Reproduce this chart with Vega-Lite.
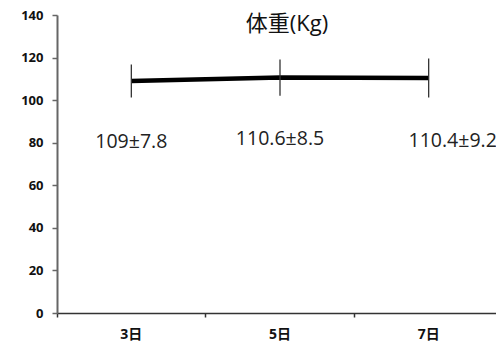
{
  "$schema": "https://vega.github.io/schema/vega-lite/v6.json",
  "autosize": {"type": "none"},
  "padding": {"left": 57, "top": 15, "right": -7, "bottom": 33},
  "width": 446,
  "height": 298,
  "title": {
    "text": "体重(Kg)",
    "font": "'Open Sans', 'Noto Sans CJK JP'",
    "fontSize": 22,
    "fontWeight": "normal",
    "color": "#111",
    "anchor": "middle",
    "dx": 7,
    "offset": -27
  },
  "data": {
    "values": [
      {"day": "3日", "mean": 109, "sd": 7.8, "label": "109±7.8"},
      {"day": "5日", "mean": 110.6, "sd": 8.5, "label": "110.6±8.5"},
      {"day": "7日", "mean": 110.4, "sd": 9.2, "label": "110.4±9.2"}
    ]
  },
  "encoding": {
    "x": {
      "field": "day",
      "type": "ordinal",
      "sort": null,
      "scale": {"type": "band", "paddingInner": 0, "paddingOuter": 0},
      "axis": {
        "title": null,
        "bandPosition": 0,
        "labelAngle": 0,
        "labelFont": "'Open Sans', 'Noto Sans CJK JP'",
        "labelFontWeight": "bold",
        "labelFontSize": 14,
        "labelColor": "#111",
        "labelPadding": 10,
        "domainColor": "#333",
        "domainWidth": 1.5,
        "tickColor": "#333",
        "tickSize": 4,
        "tickWidth": 1.5
      }
    }
  },
  "layer": [
    {
      "mark": {"type": "line", "color": "#000", "strokeWidth": 4.5},
      "encoding": {
        "y": {
          "field": "mean",
          "type": "quantitative",
          "scale": {"domain": [0, 140]},
          "axis": {
            "title": null,
            "values": [0, 20, 40, 60, 80, 100, 120, 140],
            "grid": false,
            "labelFont": "'Open Sans', 'DejaVu Sans'",
            "labelFontWeight": "bold",
            "labelFontSize": 13,
            "labelColor": "#111",
            "labelPadding": 9,
            "domainColor": "#666",
            "domainWidth": 2,
            "tickColor": "#666",
            "tickSize": 5,
            "tickWidth": 1.5
          }
        }
      }
    },
    {
      "mark": {"type": "errorbar", "color": "#333", "thickness": 1.3},
      "encoding": {
        "y": {"field": "mean", "type": "quantitative"},
        "yError": {"field": "sd"}
      }
    },
    {
      "transform": [{"filter": "datum.day != '7日'"}],
      "mark": {"type": "text", "font": "'Open Sans'", "fontSize": 19.5, "color": "#222", "dy": 61},
      "encoding": {
        "y": {"field": "mean", "type": "quantitative"},
        "text": {"field": "label"}
      }
    },
    {
      "transform": [{"filter": "datum.day == '7日'"}],
      "mark": {"type": "text", "font": "'Open Sans'", "fontSize": 19.5, "color": "#222", "dy": 63, "dx": 24},
      "encoding": {
        "y": {"field": "mean", "type": "quantitative"},
        "text": {"field": "label"}
      }
    }
  ],
  "config": {"view": {"stroke": null}}
}
